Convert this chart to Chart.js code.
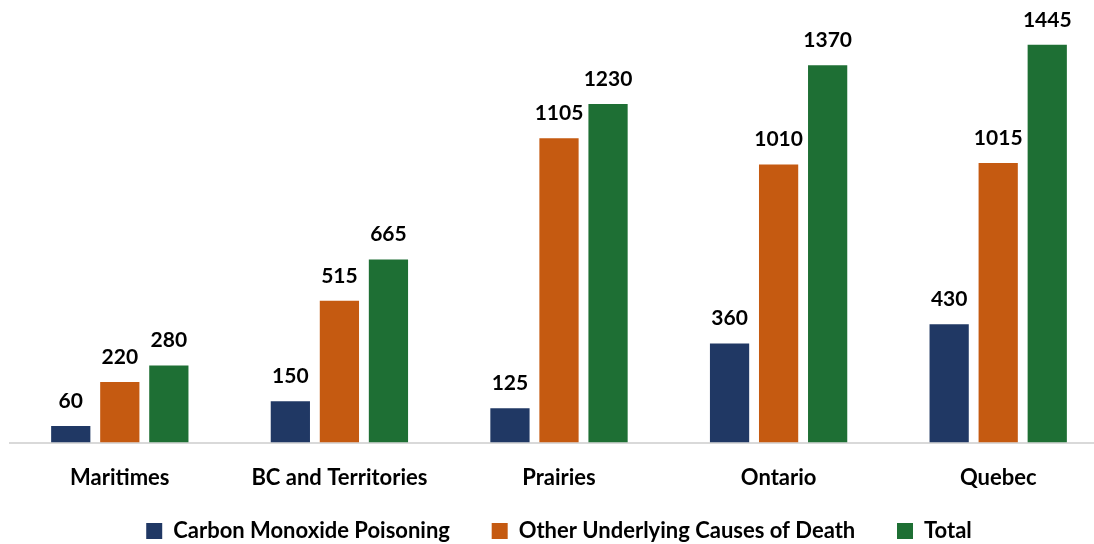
<!DOCTYPE html>
<html>
<head>
<meta charset="utf-8">
<script src="https://cdn.jsdelivr.net/npm/chart.js@4.4.0/dist/chart.umd.min.js"></script>
<style>
html,body{margin:0;padding:0;background:#fff;overflow:hidden;}
#wrap{width:1094px;height:544px;overflow:hidden;}
</style>
</head>
<body>
<div id="wrap"><canvas id="c" width="1120" height="544"></canvas></div>
<script>
const categories = ["Maritimes", "BC and Territories", "Prairies", "Ontario", "Quebec"];
const seriesNames = ["Carbon Monoxide Poisoning", "Other Underlying Causes of Death", "Total"];
const carbonMonoxide = [60, 150, 125, 360, 430];
const otherCauses = [220, 515, 1105, 1010, 1015];
const totals = [280, 665, 1230, 1370, 1445];
const colors = ["#203864", "#C55A11", "#1E6F34"];

const FONT = "Lato, 'Open Sans', sans-serif";

const valueLabels = {
  id: 'valueLabels',
  afterDatasetsDraw(chart) {
    const ctx = chart.ctx;
    ctx.save();
    ctx.font = "bold 21px " + FONT;
    ctx.fillStyle = "#000";
    ctx.textAlign = "center";
    ctx.textBaseline = "alphabetic";
    chart.data.datasets.forEach((ds, i) => {
      const meta = chart.getDatasetMeta(i);
      meta.data.forEach((bar, j) => {
        ctx.fillText(String(ds.data[j]), bar.x, bar.y - 18);
      });
    });
    ctx.restore();
  }
};

new Chart(document.getElementById('c'), {
  type: 'bar',
  data: {
    labels: categories,
    datasets: [
      { label: seriesNames[0], data: carbonMonoxide, backgroundColor: colors[0] },
      { label: seriesNames[1], data: otherCauses, backgroundColor: colors[1] },
      { label: seriesNames[2], data: totals, backgroundColor: colors[2] }
    ]
  },
  options: {
    responsive: false,
    animation: false,
    devicePixelRatio: 1,
    categoryPercentage: 0.67,
    barPercentage: 0.8,
    layout: { padding: { left: 10, right: 12, top: 2, bottom: -8 } },
    scales: {
      x: {
        grid: { display: false },
        border: { display: true, color: "#D9D9D9", width: 2 },
        ticks: { color: "#000", font: { family: FONT, size: 22, weight: 'bold' }, padding: 14 }
      },
      y: {
        display: false,
        min: 0,
        max: 1600
      }
    },
    plugins: {
      legend: {
        position: 'bottom',
        labels: {
          color: "#000",
          font: { family: FONT, size: 22, weight: 'bold' },
          boxWidth: 16,
          boxHeight: 16,
          padding: 15,
          generateLabels(chart) {
            const items = Chart.defaults.plugins.legend.labels.generateLabels(chart);
            items.forEach((it, i) => {
              if (i < items.length - 1) it.text = it.text + "     ";
            });
            return items;
          }
        }
      },
      tooltip: { enabled: false }
    }
  },
  plugins: [valueLabels]
});
</script>
</body>
</html>
